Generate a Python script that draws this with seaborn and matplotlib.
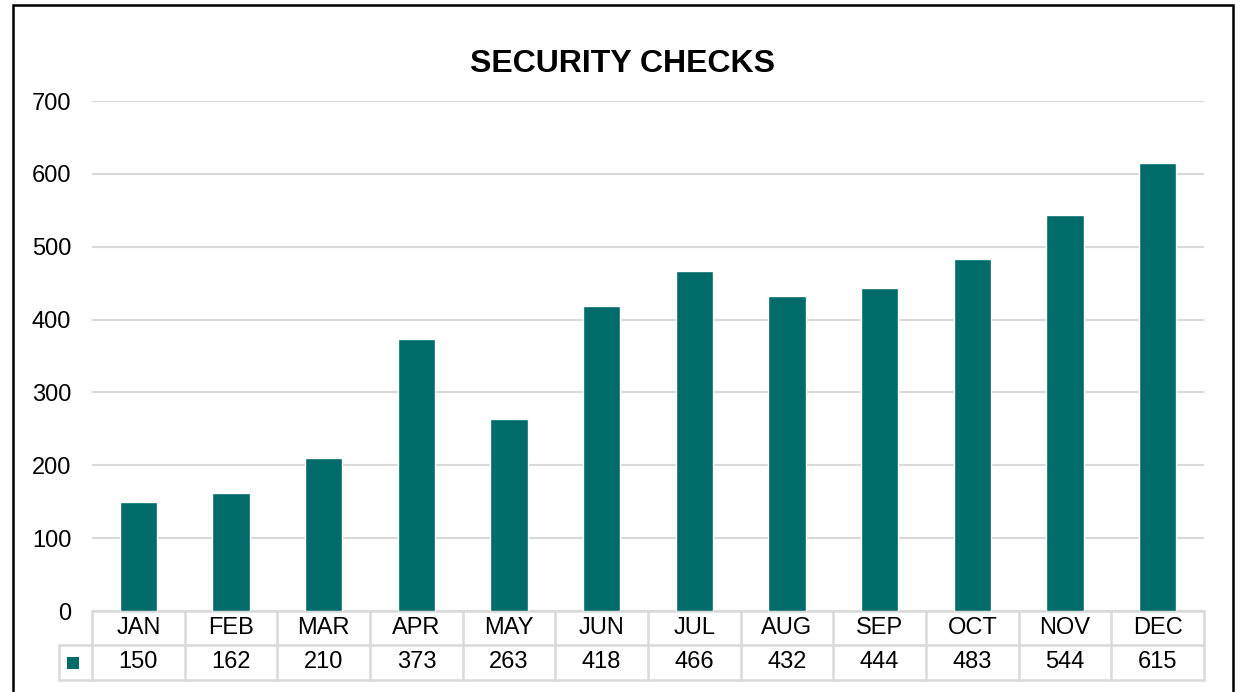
import pandas as pd
import seaborn as sns
import matplotlib.pyplot as plt
import matplotlib.transforms as mtransforms
from matplotlib.patches import Rectangle

months = ['JAN', 'FEB', 'MAR', 'APR', 'MAY', 'JUN', 'JUL', 'AUG', 'SEP', 'OCT', 'NOV', 'DEC']
checks = [150, 162, 210, 373, 263, 418, 466, 432, 444, 483, 544, 615]
yticks = [0, 100, 200, 300, 400, 500, 600, 700]

bar_color = '#006B68'
grid_color = '#D9D9D9'

df = pd.DataFrame({'Month': months, 'Checks': checks})

sns.set_style('white')
plt.rcParams['font.family'] = ['Liberation Sans', 'DejaVu Sans']
plt.rcParams['text.color'] = 'black'
plt.rcParams['ytick.color'] = 'black'

fig = plt.figure(figsize=(12.4, 6.92), dpi=100)
ax = fig.add_axes([92 / 1240, 81 / 692, 1112 / 1240, 510 / 692])

sns.barplot(data=df, x='Month', y='Checks', color=bar_color, width=0.4,
            saturation=1, ax=ax, zorder=3)

ax.set_ylim(0, 700)
ax.set_xlim(-0.5, len(months) - 0.5)
ax.set_yticks(yticks)
ax.set_yticklabels([str(t) for t in yticks], fontsize=17, color='black')
ax.tick_params(axis='y', length=0, pad=15)
ax.set_xticks([])
ax.set_xlabel('')
ax.set_ylabel('')
for s in ax.spines.values():
    s.set_visible(False)
ax.yaxis.grid(True, color=grid_color, linewidth=1.5, zorder=0)
ax.set_axisbelow(True)

fig.text(623 / 1240, 1 - 64 / 692, 'SECURITY CHECKS', fontsize=23, fontweight='bold',
         ha='center', va='center', color='black')

# data table under the plot (x in data units, y in axes units)
trans = mtransforms.blended_transform_factory(ax.transData, ax.transAxes)
row1 = -34 / 510
row2 = -69 / 510
left_legend = -0.5 - 33 / (1112 / 12)
n = len(months)
kw = dict(color=grid_color, linewidth=1.8, transform=trans, clip_on=False, zorder=1)
ax.plot([-0.5, n - 0.5], [0, 0], **kw)
ax.plot([left_legend, n - 0.5], [row1, row1], **kw)
ax.plot([left_legend, n - 0.5], [row2, row2], **kw)
ax.plot([left_legend, left_legend], [row1, row2], **kw)
for i in range(n + 1):
    ax.plot([i - 0.5, i - 0.5], [0, row2], **kw)
for i, (m, v) in enumerate(zip(months, checks)):
    ax.text(i, row1 / 2, m, transform=trans, ha='center', va='center', fontsize=17)
    ax.text(i, (row1 + row2) / 2, str(v), transform=trans, ha='center', va='center', fontsize=17)
ax.add_patch(Rectangle((-0.5 - 25 / (1112 / 12), (row1 + row2) / 2 - 6 / 510),
                       12 / (1112 / 12), 12 / 510, transform=trans,
                       facecolor=bar_color, edgecolor='none', clip_on=False))

# chart border
fig.add_artist(Rectangle((13 / 1240, -0.02), 1220 / 1240, 0.02 + 687 / 692,
                         transform=fig.transFigure, fill=False,
                         edgecolor='black', linewidth=1.8))

fig.savefig('out.png', dpi=100)
